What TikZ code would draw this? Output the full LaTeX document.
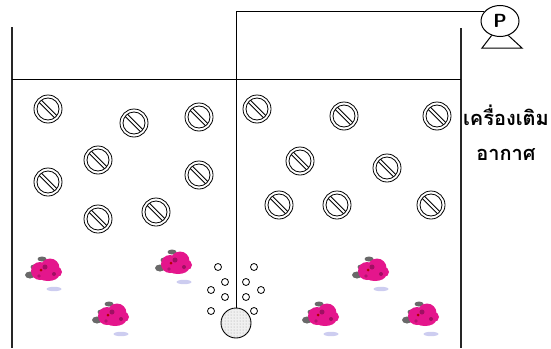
\documentclass[tikz,border=0pt]{standalone}
\usepackage{fontspec}
\newfontfamily\thaifont[Script=Thai]{Loma}
\usetikzlibrary{shapes.geometric, patterns}

\definecolor{fishpink}{RGB}{228,22,140}
\definecolor{finsgray}{RGB}{105,105,105}
\definecolor{shadowlilac}{RGB}{205,205,240}

\tikzset{
    % ring with a slash through it
    baffle/.pic={
        \draw[line width=0.8pt] (0,0) circle (14) (0,0) circle (11);
        \draw[line width=0.8pt] (-6.6,-8.8) -- (8.8,6.6);
        \draw[line width=0.8pt] (-8.8,-6.6) -- (6.6,8.8);
    },
    % pink fish with its fins and shadow
    fish/.pic={
        \fill[shadowlilac] (9,19) ellipse (7.5 and 2.2);
        \fill[finsgray] (-15,5) ellipse (5 and 3.5);
        \fill[finsgray] (-11,-3) ellipse (3.5 and 2.5);
        \fill[finsgray] (-3,-11) ellipse (4.5 and 2.5);
        \fill[fishpink] (-5,1) circle (9);
        \fill[fishpink] (5,-2) circle (9.5);
        \fill[fishpink] (3,5) ellipse (11 and 6);
        \fill[fishpink] (12,2) circle (5);
        \fill[fishpink!70!black] (0,-3) circle (2.5);
        \fill[fishpink!70!black] (9,4) circle (2);
        \fill[fishpink!80!black] (-6,6) circle (1.8);
        \fill[red!70!black] (-4,0) circle (1.5);
    }
}

\begin{document}
\begin{tikzpicture}[
        x=1pt, y=-1pt,
        % Style for the tank walls
        wall/.style={line width=1.4pt, black!85},
        pipe/.style={line width=1pt},
        % Style for the air stone
        stone/.style={circle, draw, line width=0.9pt, minimum size=30pt, inner sep=0pt,
            fill=gray!12, postaction={pattern=dots, pattern color=gray!75}},
        bubble/.style={circle, draw, line width=0.8pt, minimum size=7pt, inner sep=0pt},
        pump/.style={ellipse, draw, line width=1pt, minimum width=38pt, minimum height=31pt,
            inner sep=0pt, font=\sffamily\bfseries\fontsize{19}{19}\selectfont},
        thailabel/.style={font=\thaifont\bfseries\fontsize{20}{24}\selectfont}
    ]
    \useasboundingbox (0,0) rectangle (551,348);

    % --- Tank ---
    \draw[wall] (12,27) -- (12,348);
    \draw[wall] (461,28) -- (461,348);
    \draw[line width=0.9pt] (12,79) -- (461,79);

    % --- Pump and air line ---
    \node[pump] (pump) at (500,21) {P};
    \draw[pipe] (pump.-120) -- (482,48) -- (522,48) -- (pump.-60);
    \node[stone] (stone) at (236,323) {};
    \draw[pipe] (stone.north) |- (pump.150);

    \node[thailabel] (lbl1) at (506,115) {เครื่องเติม};
    \node[thailabel] (lbl2) at (506,155) {อากาศ};

    % --- Bubbles ---
    \foreach \x/\y [count=\i] in {218/267, 254/267, 225/282, 246/282, 211/290,
                                  261/290, 225/297, 246/297, 211/311, 254/311}
        \node[bubble] (b\i) at (\x,\y) {};

    % --- Baffles ---
    \foreach \x/\y in {48/109, 134/123, 199/117, 98/160, 48/182, 199/175, 98/219, 156/212,
                       257/109, 344/116, 437/116, 300/161, 387/168, 279/205, 337/205, 431/205}
        \pic at (\x,\y) {baffle};

    % --- Fish ---
    \foreach \x/\y in {45/270, 175/263, 112/315, 372/270, 322/315, 422/315}
        \pic at (\x,\y) {fish};

\end{tikzpicture}
\end{document}
